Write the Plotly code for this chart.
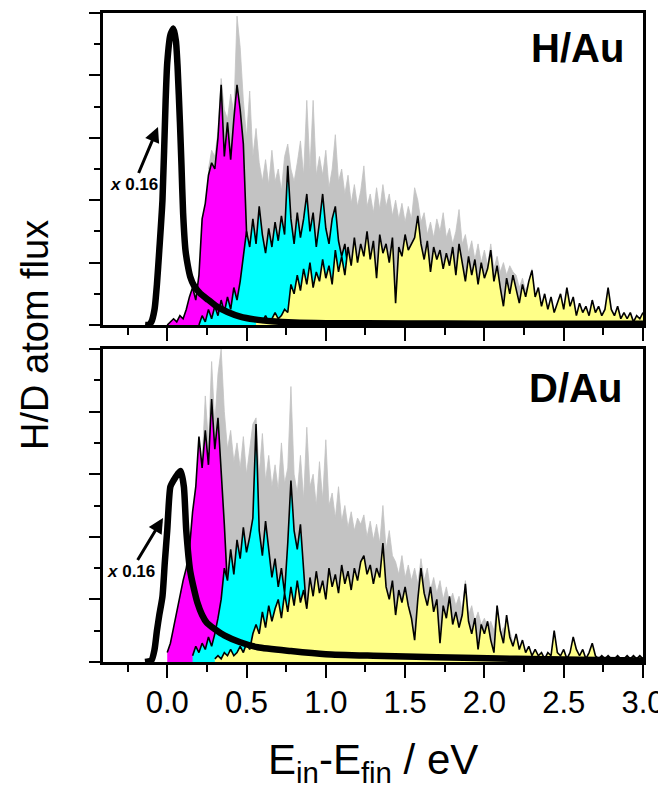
import numpy as np
import plotly.graph_objects as go

# ---------------- H/Au (top panel) ----------------
h_peak_x = [-0.14, -0.12, -0.10, -0.08, -0.065, -0.05, -0.03, -0.01, 0.00, 0.02, 0.04, 0.055,
            0.065, 0.08, 0.09, 0.10, 0.115, 0.13, 0.145, 0.17, 0.21, 0.26, 0.31, 0.38, 0.46,
            0.55, 0.66, 0.80, 1.00, 1.50, 2.00, 2.50, 3.00]
h_peak_y = [0.0, 0.0, 0.1, 0.5, 1.3, 2.4, 4.0, 7.2, 8.4, 9.3, 9.5, 9.1,
            8.3, 6.5, 5.1, 3.6, 2.4, 1.9, 1.55, 1.25, 1.0, 0.8, 0.6, 0.42, 0.27,
            0.18, 0.12, 0.08, 0.06, 0.05, 0.04, 0.04, 0.04]

h_magenta_range = (0.00, 0.58)
h_magenta = [0.0, 0.1, 0.2, 0.1, 0.3, 0.2, 0.5, 0.9, 1.2, 0.8, 1.6, 3.4, 3.9, 4.8, 5.2,
             5.0, 6.0, 7.7, 5.4, 6.5, 5.3, 6.6, 7.7, 6.9, 5.8, 3.0, 1.6, 0.8, 0.2, 0.0]

h_cyan_range = (0.20, 1.24)
h_cyan = [0.0, 0.3, 0.1, 0.5, 0.2, 0.6, 0.3, 0.8, 0.4, 0.9, 0.5, 1.2, 0.8, 1.4, 2.2,
          3.0, 2.5, 3.4, 2.6, 3.8, 2.9, 2.3, 3.1, 2.5, 3.3, 2.7, 3.5, 2.9, 5.1, 3.4,
          2.6, 3.6, 2.8, 3.4, 4.2, 3.0, 3.6, 2.5, 3.3, 4.2, 3.1, 2.6, 3.4, 3.8, 2.7,
          2.2, 2.6, 1.8, 2.1, 1.2, 0.6, 0.2, 0.0]

h_yellow_range = (0.56, 3.00)
h_yellow = [0.1, 0.2, 0.1, 0.3, 0.1, 0.2, 0.4, 0.2, 0.3, 0.5, 0.4, 1.3, 1.0, 1.6, 1.1,
            1.8, 1.3, 2.0, 1.2, 1.7, 1.4, 2.1, 1.5, 1.9, 1.3, 2.4, 1.7, 2.2, 1.6, 2.5,
            1.9, 2.8, 2.0, 2.6, 2.2, 3.0, 2.1, 2.7, 1.5, 2.9, 2.3, 2.6, 2.0, 2.8, 0.7,
            2.5, 2.2, 2.9, 2.4, 2.6, 2.8, 3.5, 2.6, 2.1, 2.7, 1.7, 2.5, 2.1, 2.4, 1.8,
            2.3, 1.9, 2.5, 1.6, 2.6, 2.0, 1.4, 2.2, 1.6, 2.1, 1.3, 2.0, 1.5, 1.8, 2.4,
            1.4, 1.9, 1.2, 0.6, 1.5, 1.0, 1.6, 1.1, 0.7, 1.3, 0.9, 1.4, 1.75, 0.9, 1.2,
            0.6, 1.0, 0.5, 0.9, 0.4, 0.7, 1.0, 0.5, 1.2, 0.6, 0.9, 0.3, 0.7, 0.4, 0.6,
            0.3, 0.8, 0.4, 0.6, 0.3, 0.5, 1.2, 0.5, 0.3, 0.6, 0.2, 0.4, 0.2, 0.4, 0.1,
            0.3, 0.2, 0.4]

h_gray_range = (0.26, 2.32)
h_gray = [5.0, 5.6, 5.4, 6.2, 7.9, 6.9, 6.6, 7.4, 6.8, 9.9, 8.9, 7.2, 6.0, 7.5, 5.4,
          6.3, 5.2, 4.6, 5.3, 4.5, 5.6, 4.6, 5.0, 4.3, 5.4, 5.8, 5.0, 4.6, 5.2, 5.9,
          4.8, 7.2, 5.0, 7.2, 4.8, 5.4, 4.8, 5.6, 4.4, 5.0, 6.1, 4.6, 5.0, 4.2, 4.8,
          3.9, 4.5, 3.8, 4.3, 5.1, 3.8, 4.2, 3.6, 4.4, 3.7, 4.5, 3.8, 4.2, 3.5, 4.0,
          3.4, 3.9, 3.3, 3.8, 3.4, 4.4, 4.0, 3.3, 3.6, 2.9, 3.3, 2.8, 3.4, 3.0, 3.6,
          2.8, 3.1, 2.6, 3.0, 3.7, 2.6, 2.9, 2.3, 2.7, 2.1, 2.6, 2.0, 2.4, 1.9, 2.6,
          1.8, 2.2, 1.7, 2.0, 1.6, 1.9, 1.7, 1.6, 1.2, 1.5, 1.1, 1.4, 1.8, 0.0]

# ---------------- D/Au (bottom panel) ----------------
d_peak_x = [-0.14, -0.10, -0.08, -0.065, -0.05, -0.03, -0.015, 0.00, 0.02, 0.04, 0.065, 0.085,
            0.105, 0.12, 0.145, 0.17, 0.19, 0.22, 0.25, 0.30, 0.36, 0.46, 0.57, 0.78, 1.00,
            1.30, 1.70, 2.20, 2.60, 3.00]
d_peak_y = [0.0, 0.05, 0.4, 1.0, 1.5, 2.1, 3.2, 4.2, 5.6, 5.8, 6.0, 6.1,
            5.6, 4.2, 2.9, 2.3, 1.9, 1.5, 1.25, 1.05, 0.85, 0.63, 0.47, 0.35, 0.25,
            0.2, 0.15, 0.1, 0.07, 0.05]

d_magenta_range = (0.00, 0.44)
d_magenta = [0.3, 0.6, 1.1, 1.6, 2.2, 2.6, 3.0, 3.6, 4.8, 5.6, 7.2, 6.2, 7.4, 6.3, 8.4,
             6.8, 7.8, 6.2, 4.4, 2.4, 1.0, 0.3, 0.0]

d_cyan_range = (0.16, 0.92)
d_cyan = [0.2, 0.5, 0.3, 0.6, 0.4, 0.8, 0.5, 0.9, 1.4, 2.0, 3.0, 2.6, 3.6, 2.8, 3.9,
          3.3, 4.3, 3.5, 4.0, 4.6, 7.6, 4.2, 3.4, 4.5, 3.6, 2.7, 3.3, 2.4, 3.0, 2.2,
          3.8, 5.8, 4.2, 3.6, 4.4, 2.8, 1.5, 0.5, 0.0]

d_yellow_range = (0.30, 3.00)
d_yellow = [0.1, 0.2, 0.1, 0.3, 0.2, 0.4, 0.2, 0.3, 0.5, 0.3, 0.6, 0.4, 0.9, 1.2, 0.9,
            1.6, 1.1, 1.8, 1.3, 1.7, 2.0, 1.4, 2.2, 1.6, 2.4, 1.8, 2.6, 1.9, 2.3, 1.7,
            2.7, 2.1, 2.9, 2.2, 2.6, 2.0, 3.0, 2.4, 2.8, 2.2, 3.1, 2.5, 2.9, 2.3, 3.0,
            2.6, 3.2, 3.4, 2.8, 3.1, 2.5, 3.0, 2.7, 3.8, 2.4, 2.0, 2.6, 1.5, 2.3, 1.9,
            2.4, 1.8, 1.4, 0.7, 2.0, 3.0, 2.2, 1.8, 2.4, 1.6, 2.0, 0.6, 1.8, 1.4, 2.1,
            1.2, 1.6, 1.1, 1.5, 2.5, 1.3, 0.9, 1.4, 0.4, 1.2, 0.9, 1.3, 0.7, 0.3, 1.8,
            1.0, 0.6, 1.5, 0.8, 0.5, 0.9, 0.4, 0.7, 0.3, 0.5, 0.2, 0.4, 0.2, 0.3, 0.1,
            0.3, 0.2, 1.0, 0.3, 0.2, 0.4, 0.1, 0.3, 0.8, 0.4, 0.2, 0.4, 0.1, 0.3, 0.6,
            0.2, 0.1, 0.2, 0.1, 0.2, 0.1, 0.1, 0.2, 0.1, 0.1, 0.2, 0.1, 0.2, 0.1, 0.2,
            0.1]

d_gray_range = (0.18, 2.28)
d_gray = [5.0, 6.8, 6.4, 8.5, 7.0, 9.6, 7.6, 9.2, 10.0, 8.0, 6.8, 7.4, 6.4, 7.0, 6.2,
          7.2, 6.0, 6.9, 7.6, 7.8, 6.0, 7.3, 5.8, 6.6, 5.6, 6.3, 5.5, 7.0, 5.7, 6.2,
          8.8, 6.0, 5.4, 6.6, 5.2, 7.5, 5.6, 6.0, 5.0, 6.4, 5.2, 7.1, 5.0, 5.4, 4.6,
          5.6, 4.5, 5.0, 4.3, 4.8, 4.2, 4.6, 4.4, 4.7, 4.0, 4.5, 3.9, 4.4, 3.8, 5.0,
          3.6, 4.2, 3.4, 3.2, 2.8, 3.4, 2.7, 3.1, 2.6, 3.0, 2.5, 3.3, 2.6, 3.0, 2.3,
          2.7, 2.2, 2.6, 2.0, 2.4, 1.9, 2.2, 1.8, 2.1, 1.6, 2.6, 1.5, 1.8, 1.3, 1.6,
          1.2, 1.4, 1.1, 1.3, 1.0, 1.8, 0.9, 1.1, 0.8, 1.0, 0.6, 0.7, 0.4, 0.3, 0.1,
          0.0]

x_ticks = [0.0, 0.5, 1.0, 1.5, 2.0, 2.5, 3.0]
x_tick_labels = ["0.0", "0.5", "1.0", "1.5", "2.0", "2.5", "3.0"]
panel_labels = ["H/Au", "D/Au"]
scale_note = "<b><i>x</i> 0.16</b>"

FONT = "Liberation Sans"
GRAY = "#c3c3c3"
MAGENTA = "#ff00ff"
CYAN = "#00ffff"
YELLOW = "#ffff88"


def grid(rng, vals):
    return np.linspace(rng[0], rng[1], len(vals))


fig = go.Figure()


def add_panel(xa, ya, gray, gray_r, mag, mag_r, cy, cy_r, ye, ye_r, px, py):
    fig.add_trace(go.Scatter(x=grid(gray_r, gray), y=gray, mode="lines", fill="tozeroy",
                             fillcolor=GRAY, line=dict(color=GRAY, width=0.8),
                             xaxis=xa, yaxis=ya, showlegend=False))
    for vals, r, col in [(mag, mag_r, MAGENTA), (cy, cy_r, CYAN), (ye, ye_r, YELLOW)]:
        fig.add_trace(go.Scatter(x=grid(r, vals), y=vals, mode="lines", fill="tozeroy",
                                 fillcolor=col, line=dict(color="black", width=1.6),
                                 xaxis=xa, yaxis=ya, showlegend=False))
    fig.add_trace(go.Scatter(x=px, y=py, mode="lines", line=dict(color="black", width=6.5,
                                                                  shape="spline", smoothing=0.6),
                             xaxis=xa, yaxis=ya, showlegend=False))


add_panel("x", "y", h_gray, h_gray_range, h_magenta, h_magenta_range, h_cyan, h_cyan_range,
          h_yellow, h_yellow_range, h_peak_x, h_peak_y)
add_panel("x2", "y2", d_gray, d_gray_range, d_magenta, d_magenta_range, d_cyan, d_cyan_range,
          d_yellow, d_yellow_range, d_peak_x, d_peak_y)

xcommon = dict(range=[-0.405, 3.0], showline=True, linecolor="black", linewidth=2.5, mirror=True,
               ticks="outside", ticklen=13, tickwidth=2, tickcolor="black",
               tickvals=x_ticks, ticktext=x_tick_labels, automargin=False,
               ticklabelstandoff=-2,
               minor=dict(ticks="outside", ticklen=7, tickwidth=2, tickcolor="black",
                          dtick=0.25, tick0=0, showgrid=False),
               showgrid=False, zeroline=False,
               tickfont=dict(size=31, family=FONT, color="black"))
ycommon = dict(range=[0, 10], showline=True, linecolor="black", linewidth=2.5, mirror=True,
               ticks="outside", ticklen=11, tickwidth=2, tickcolor="black", tick0=0, dtick=2,
               minor=dict(ticks="outside", ticklen=6, tickwidth=2, tickcolor="black",
                          dtick=1, tick0=0, showgrid=False),
               automargin=False,
               showticklabels=False, showgrid=False, zeroline=False)

top_dom = [(662 - 325) / 649, 1.0]
bot_dom = [0.0, (662 - 349) / 649]

# the page body adds an 8 px offset, so the figure is drawn 8 px smaller
fig.update_layout(
    width=658, height=790,
    margin=dict(l=95, r=23, t=5, b=136),
    paper_bgcolor="white", plot_bgcolor="white",
    xaxis=dict(xcommon, anchor="y", showticklabels=False),
    yaxis=dict(ycommon, anchor="x", domain=top_dom),
    xaxis2=dict(xcommon, anchor="y2"),
    yaxis2=dict(ycommon, anchor="x2", domain=bot_dom),
    font=dict(family=FONT, color="black"),
)


def px2paper(px, py):
    return (px - 103) / 540, (662 - py) / 649


annots = []
for (lx, ly), txt in zip([(577, 48), (575, 388)], panel_labels):
    ax_, ay_ = px2paper(lx, ly)
    annots.append(dict(xref="paper", yref="paper", x=ax_, y=ay_, text="<b>" + txt + "</b>",
                       showarrow=False, font=dict(size=40, family=FONT, color="black"),
                       xanchor="center", yanchor="middle"))
# scale note text sits at the arrow tail; arrow points to the elastic peak
for (tx, ty), (hx, hy) in [((134, 184), (158, 127)), ((131, 571), (163, 518))]:
    hx_, hy_ = px2paper(hx, hy)
    annots.append(dict(xref="paper", yref="paper", x=hx_, y=hy_, text=scale_note,
                       showarrow=True, arrowhead=2, arrowsize=1.0, arrowwidth=3,
                       arrowcolor="black", ax=tx - hx, ay=ty - hy, standoff=0,
                       font=dict(size=17, family=FONT, color="black")))

ax_, ay_ = px2paper(373, 762)
annots.append(dict(xref="paper", yref="paper", x=ax_, y=ay_,
                   text="E<sub>in</sub>-E<sub>fin</sub> / eV",
                   showarrow=False, font=dict(size=42, family=FONT, color="black"),
                   xanchor="center", yanchor="middle"))
ax_, ay_ = px2paper(35, 335)
annots.append(dict(xref="paper", yref="paper", x=ax_, y=ay_, text="H/D atom flux",
                   showarrow=False, textangle=-90,
                   font=dict(size=38, family=FONT, color="black"),
                   xanchor="center", yanchor="middle"))
fig.update_layout(annotations=annots)

fig.write_html("out.html")
